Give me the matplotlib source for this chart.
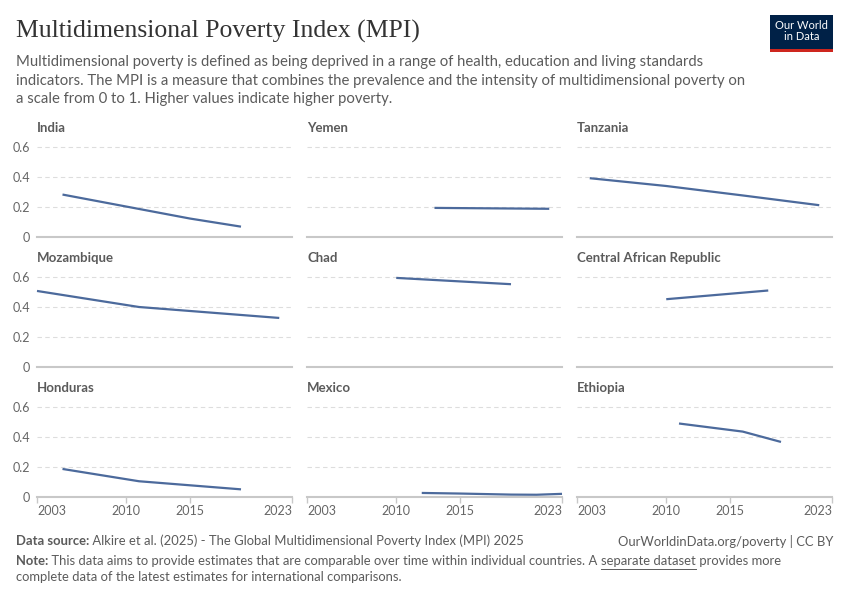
import matplotlib
matplotlib.use("Agg")
import matplotlib.pyplot as plt
from matplotlib.patches import Rectangle
from matplotlib.lines import Line2D

# ---------------- data ----------------
countries = ["India", "Yemen", "Tanzania",
             "Mozambique", "Chad", "Central African Republic",
             "Honduras", "Mexico", "Ethiopia"]

india_years = [2005, 2015, 2019]
india_mpi = [0.283, 0.123, 0.069]
yemen_years = [2013, 2022]
yemen_mpi = [0.194, 0.188]
tanzania_years = [2004, 2010, 2016, 2022]
tanzania_mpi = [0.392, 0.340, 0.277, 0.212]
mozambique_years = [2003, 2011, 2022]
mozambique_mpi = [0.507, 0.400, 0.327]
chad_years = [2010, 2019]
chad_mpi = [0.594, 0.552]
car_years = [2010, 2018]
car_mpi = [0.452, 0.510]
honduras_years = [2005, 2011, 2019]
honduras_mpi = [0.187, 0.105, 0.051]
mexico_years = [2012, 2015, 2019, 2021, 2023]
mexico_mpi = [0.027, 0.023, 0.016, 0.015, 0.021]
ethiopia_years = [2011, 2016, 2019]
ethiopia_mpi = [0.490, 0.436, 0.367]

series = {
    "India": (india_years, india_mpi),
    "Yemen": (yemen_years, yemen_mpi),
    "Tanzania": (tanzania_years, tanzania_mpi),
    "Mozambique": (mozambique_years, mozambique_mpi),
    "Chad": (chad_years, chad_mpi),
    "Central African Republic": (car_years, car_mpi),
    "Honduras": (honduras_years, honduras_mpi),
    "Mexico": (mexico_years, mexico_mpi),
    "Ethiopia": (ethiopia_years, ethiopia_mpi),
}

y_ticks = [0, 0.2, 0.4, 0.6]
y_tick_labels = ["0", "0.2", "0.4", "0.6"]
x_ticks = [2003, 2010, 2015, 2023]
x_tick_labels = ["2003", "2010", "2015", "2023"]

title = "Multidimensional Poverty Index (MPI)"
subtitle_lines = [
    "Multidimensional poverty is defined as being deprived in a range of health, education and living standards",
    "indicators. The MPI is a measure that combines the prevalence and the intensity of multidimensional poverty on",
    "a scale from 0 to 1. Higher values indicate higher poverty.",
]

# ---------------- style ----------------
W, H = 850, 600
LINE = "#4c6a9c"
GRID = "#dddddd"
BASE = "#c8c8c8"
TXT = "#5b5b5b"
TICK = "#666666"
plt.rcParams['font.family'] = ['Lato', 'DejaVu Sans']

fig = plt.figure(figsize=(W / 100, H / 100), dpi=100)

def fx(px):
    return px / W

def fy(py):
    return 1 - py / H

col_left = [37, 307, 577]
col_w = 255
row_base = [237, 367, 497]
row_h = 90

for i, name in enumerate(countries):
    r, c = divmod(i, 3)
    x0 = col_left[c]
    yb = row_base[r]
    ax = fig.add_axes([fx(x0), fy(yb), col_w / W, row_h / H])
    ax.set_xlim(2003, 2023)
    ax.set_ylim(0, 0.6)
    for s in ["top", "right", "left"]:
        ax.spines[s].set_visible(False)
    ax.spines["bottom"].set_color(BASE)
    ax.spines["bottom"].set_linewidth(1.5)
    for yv in y_ticks[1:]:
        ax.axhline(yv, color=GRID, lw=0.8, ls=(0, (4, 3)), zorder=0, clip_on=False)
    ax.set_yticks(y_ticks)
    if c == 0:
        ax.set_yticklabels(y_tick_labels)
    else:
        ax.set_yticklabels([])
    ax.tick_params(axis="y", length=0, pad=5, labelsize=9, labelcolor=TICK)
    ax.set_xticks(x_ticks)
    if r == 2:
        ax.set_xticklabels(x_tick_labels)
        ax.tick_params(axis="x", length=4, width=1, color=BASE, pad=2,
                       labelsize=9, labelcolor=TICK)
        labs = ax.get_xticklabels()
        labs[0].set_horizontalalignment("left")
        labs[-1].set_horizontalalignment("right")
    else:
        ax.tick_params(axis="x", length=0, labelbottom=False)
    xs, ys = series[name]
    ax.plot(xs, ys, color=LINE, lw=1.6, solid_capstyle="butt", clip_on=False)
    fig.text(fx(x0), fy(128 + r * 130), name, fontsize=9.5, fontweight="bold",
             color=TXT, va="center", ha="left")

# ---------------- header ----------------
fig.text(fx(16), fy(31), title, fontsize=18.5, family=["Liberation Serif", "DejaVu Serif"],
         color="#333333", va="center", ha="left")
for k, line in enumerate(subtitle_lines):
    fig.text(fx(16), fy(62 + k * 18.5), line, fontsize=10.7, color=TXT,
             va="center", ha="left")

# logo
logo_x, logo_y, logo_w, logo_h = 770, 15, 63, 37
fig.patches.append(Rectangle((fx(logo_x), fy(logo_y + logo_h)), logo_w / W, logo_h / H,
                             transform=fig.transFigure, facecolor="#002147", edgecolor="none"))
fig.patches.append(Rectangle((fx(logo_x), fy(logo_y + logo_h)), logo_w / W, 3 / H,
                             transform=fig.transFigure, facecolor="#ce261e", edgecolor="none"))
fig.text(fx(logo_x + logo_w / 2), fy(logo_y + 16), "Our World\nin Data", fontsize=8,
         color="white", ha="center", va="center", linespacing=1.0)

# ---------------- footer ----------------
fig.canvas.draw()
renderer = fig.canvas.get_renderer()
FS = 9.4

def run(parts, x_px, y_px, size=FS):
    x = x_px
    out = []
    for txt, bold in parts:
        t = fig.text(fx(x), fy(y_px), txt, fontsize=size, color=TXT,
                     fontweight="bold" if bold else "normal", va="center", ha="left")
        bb = t.get_window_extent(renderer)
        out.append((t, x, bb.width))
        x += bb.width
    return out

run([("Data source:", True), (" Alkire et al. (2025) - The Global Multidimensional Poverty Index (MPI) 2025", False)], 16, 541)
fig.text(fx(833), fy(541), "OurWorldinData.org/poverty | CC BY", fontsize=FS, color=TXT,
         va="center", ha="right")
parts = run([("Note:", True),
             (" This data aims to provide estimates that are comparable over time within individual countries. A ", False),
             ("separate dataset", False),
             (" provides more", False)], 16, 561)
_, ux, uw = parts[2]
fig.add_artist(Line2D([fx(ux), fx(ux + uw)], [fy(568.5), fy(568.5)], transform=fig.transFigure,
                      color=TXT, lw=0.7))
fig.text(fx(16), fy(577), "complete data of the latest estimates for international comparisons.",
         fontsize=FS, color=TXT, va="center", ha="left")

fig.savefig("out.png", dpi=100)
